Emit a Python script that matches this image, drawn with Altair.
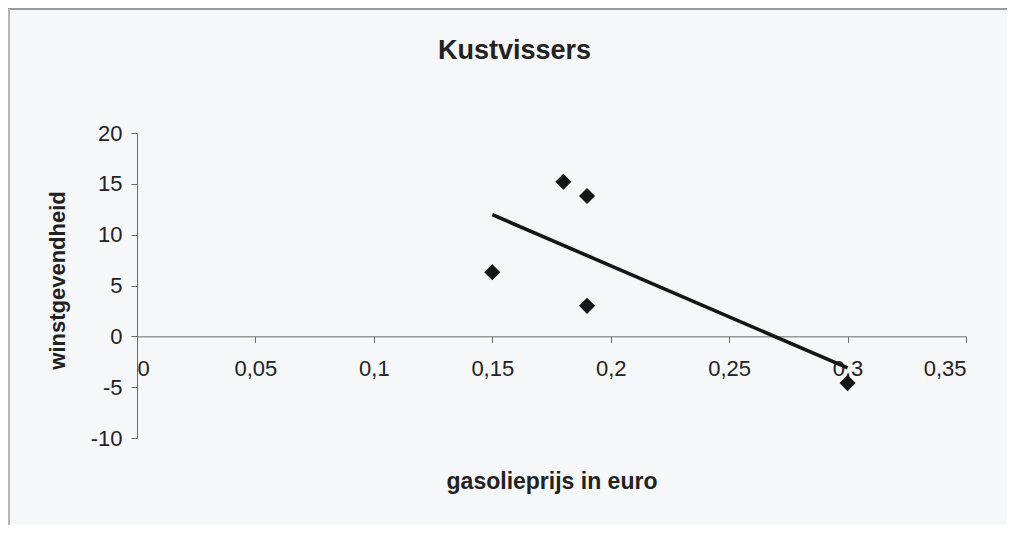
import altair as alt
import pandas as pd

# Data
prices = [0.15, 0.18, 0.19, 0.19, 0.30]
profit = [6.3, 15.2, 13.8, 3.0, -4.6]
x_ticks = [0, 0.05, 0.10, 0.15, 0.20, 0.25, 0.30, 0.35]
y_ticks = [-10, -5, 0, 5, 10, 15, 20]

df = pd.DataFrame({"x": prices, "y": profit})

W, H = 829, 305
Y_DOMAIN = [-10, 20]
FONT = "Liberation Sans"
TXT = "#222222"
AX = "#6a6a6a"

zero_offset = -H * (0 - Y_DOMAIN[0]) / (Y_DOMAIN[1] - Y_DOMAIN[0])

x_enc = alt.X(
    "x:Q",
    scale=alt.Scale(domain=[0, 0.35], nice=False, zero=False),
    axis=alt.Axis(
        values=x_ticks,
        labelExpr="replace(toString(datum.value), '.', ',')",
        offset=zero_offset,
        grid=False,
        domainColor=AX,
        tickColor=AX,
        tickSize=6,
        labelPadding=16,
        labelFontSize=22,
        labelFont=FONT,
        labelColor=TXT,
        title="gasolieprijs in euro",
        titleFont=FONT,
        titleFontSize=23,
        titleFontWeight="bold",
        titleColor=TXT,
        titleY=145,
        titleBaseline="middle",
    ),
)
y_enc = alt.Y(
    "y:Q",
    scale=alt.Scale(domain=Y_DOMAIN, nice=False),
    axis=alt.Axis(
        values=y_ticks,
        labelExpr="toString(datum.value)",
        grid=False,
        domainColor=AX,
        tickColor=AX,
        tickSize=6,
        labelPadding=9,
        labelFontSize=22,
        labelFont=FONT,
        labelColor=TXT,
        title="winstgevendheid",
        titleFont=FONT,
        titleFontSize=22,
        titleFontWeight="bold",
        titleColor=TXT,
        titleX=-80,
        titleY=147,
        titleAngle=-90,
        titleBaseline="middle",
        titleAlign="center",
    ),
)

points = alt.Chart(df).mark_point(
    shape="diamond", filled=True, size=260, color="#161616", opacity=1
).encode(x=x_enc, y=y_enc)

trend = (
    alt.Chart(df)
    .transform_regression("x", "y")
    .mark_line(color="#161616", strokeWidth=3.6)
    .encode(x="x:Q", y="y:Q")
)

frame_top = alt.Chart(df).mark_rule(color="#9a9a9a", strokeWidth=2).encode(
    x=alt.value(-129), x2=alt.value(W + 45), y=alt.value(-124)
)
frame_left = alt.Chart(df).mark_rule(color="#b5b5b5", strokeWidth=1.5).encode(
    x=alt.value(-128), y=alt.value(-124), y2=alt.value(H + 90)
)

chart = (
    alt.layer(frame_top, frame_left, trend, points)
    .properties(
        width=W,
        height=H,
        title=alt.TitleParams(
            text="Kustvissers",
            font=FONT,
            fontSize=27,
            fontWeight="bold",
            color=TXT,
            anchor="middle",
            frame="group",
            dx=-37,
            offset=-70,
            baseline="middle",
        ),
        autosize=alt.AutoSizeParams(type="none"),
        padding={"left": 129, "top": 125, "right": 41, "bottom": 87},
    )
    .configure(background="#f6f7f9")
    .configure_view(stroke=None)
)

chart.save("out.html", embed_options={"renderer": "svg", "actions": False})
